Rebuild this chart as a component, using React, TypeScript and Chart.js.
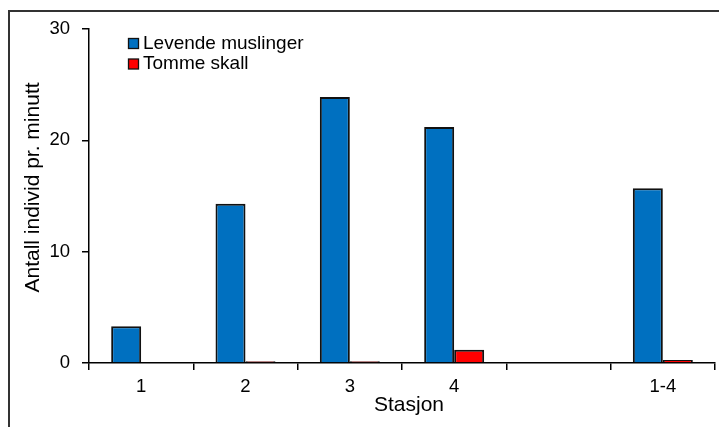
import React, { useEffect, useRef } from "react";
import { Chart, registerables } from "chart.js";

Chart.register(...registerables);

const categories = ["1", "2", "3", "4", "", "1-4"];
const seriesNames = ["Levende muslinger", "Tomme skall"];
const levende = [3.3, 14.3, 23.9, 21.2, null, 15.7];
const tomme = [null, 0.15, 0.15, 1.2, null, 0.27];
const yTicks = [0, 10, 20, 30];
const xTitle = "Stasjon";
const yTitle = "Antall individ pr. minutt";

const FONT = '"Liberation Sans", Arial, sans-serif';

const decorPlugin = {
  id: "decor",
  beforeDraw(chart: any) {
    const ctx = chart.ctx;
    ctx.save();
    ctx.fillStyle = "#fff";
    ctx.fillRect(0, 0, chart.width, chart.height);
    ctx.strokeStyle = "#333";
    ctx.lineWidth = 2;
    ctx.strokeRect(9, 11, 800, 500);
    ctx.restore();
  },
  afterDraw(chart: any) {
    const ctx = chart.ctx;
    ctx.save();
    const ds = chart.data.datasets;
    ctx.font = `19px ${FONT}`;
    ctx.textBaseline = "middle";
    ctx.textAlign = "left";
    ds.forEach((d: any, i: number) => {
      const y = 43.5 + i * 20.5;
      ctx.fillStyle = d.backgroundColor;
      ctx.fillRect(128.5, y - 5, 10, 10);
      ctx.strokeStyle = "#111";
      ctx.lineWidth = 1.3;
      ctx.strokeRect(128.5, y - 5, 10, 10);
      ctx.fillStyle = "#000";
      ctx.fillText(d.label, 143, y);
    });
    ctx.font = `21px ${FONT}`;
    ctx.textAlign = "center";
    ctx.fillStyle = "#000";
    ctx.fillText(xTitle, 409, 405);
    ctx.translate(33, 187.5);
    ctx.rotate(-Math.PI / 2);
    ctx.fillText(yTitle, 0, 0);
    ctx.restore();
  },
};

export default function App() {
  const ref = useRef<HTMLCanvasElement>(null);
  useEffect(() => {
    if (!ref.current) return;
    const chart = new Chart(ref.current, {
      type: "bar",
      data: {
        labels: categories,
        datasets: [
          {
            label: seriesNames[0],
            data: levende,
            backgroundColor: "#0070C0",
            borderColor: "#111",
            borderWidth: 2,
            categoryPercentage: 0.575,
            barPercentage: 1,
          },
          {
            label: seriesNames[1],
            data: tomme,
            backgroundColor: "#FF0000",
            borderColor: "#111",
            borderWidth: 2,
            categoryPercentage: 0.575,
            barPercentage: 1,
          },
        ],
      },
      options: {
        animation: false,
        responsive: false,
        devicePixelRatio: 1,
        layout: { padding: { left: 0, top: 29, right: 4, bottom: 0 } },
        plugins: { legend: { display: false }, tooltip: { enabled: false } },
        scales: {
          x: {
            grid: {
              offset: true,
              drawOnChartArea: false,
              drawTicks: true,
              tickLength: 7,
              color: "#000",
              lineWidth: 1.5,
            },
            border: { color: "#000", width: 1.5 },
            ticks: { color: "#000", font: { family: FONT, size: 18.5 }, padding: 6, maxRotation: 0 },
            afterFit: (s: any) => {
              s.height = 64;
            },
          },
          y: {
            min: yTicks[0],
            max: yTicks[yTicks.length - 1],
            afterBuildTicks: (s: any) => {
              s.ticks = yTicks.map((v) => ({ value: v }));
            },
            grid: {
              drawOnChartArea: false,
              drawTicks: true,
              tickLength: 7,
              color: "#000",
              lineWidth: 1.5,
            },
            border: { color: "#000", width: 1.5 },
            ticks: { color: "#000", font: { family: FONT, size: 18.5 }, padding: 12 },
            afterFit: (s: any) => {
              s.width = 89;
            },
          },
        },
      },
      plugins: [decorPlugin],
    });
    return () => chart.destroy();
  }, []);
  return (
    <div style={{ position: "absolute", left: 0, top: 0, width: 719, height: 427, overflow: "hidden", background: "#fff" }}>
      <canvas ref={ref} width={719} height={427} style={{ display: "block", width: 719, height: 427 }} />
    </div>
  );
}
